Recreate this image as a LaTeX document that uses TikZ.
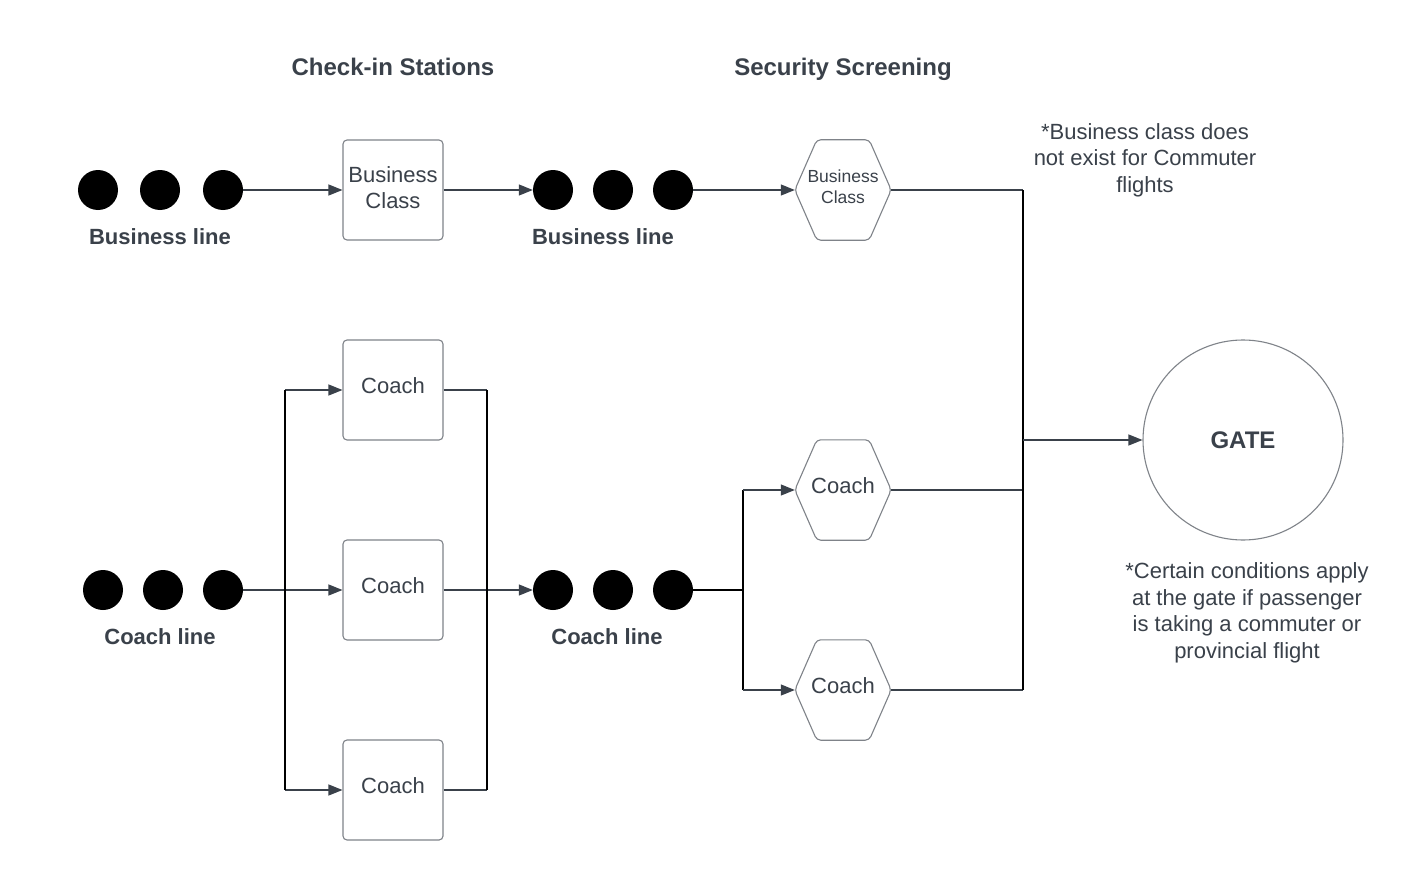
\documentclass[tikz,border=0pt]{standalone}
\usepackage{fontspec}
\setmainfont{Liberation Sans}
\usetikzlibrary{arrows.meta}
\definecolor{ink}{HTML}{3A414A}
\definecolor{edge}{HTML}{7F8389}
\tikzset{
  dot/.style={circle,fill=black,draw=none,minimum size=40pt,inner sep=0pt},
  stationbox/.style={draw=edge,line width=1.1pt,rounded corners=4pt,minimum width=100pt,minimum height=100pt,inner sep=0pt,align=center,text=ink,font=\fontsize{22}{26}\selectfont},
  hexnode/.style={draw=none,minimum width=96pt,minimum height=100pt,inner sep=0pt,align=center,text=ink},
  hexline/.style={draw=edge,line width=1.1pt,rounded corners=4pt},
  title/.style={text=ink,font=\bfseries\fontsize{24}{28}\selectfont,text height=17pt,text depth=0pt},
  linelabel/.style={text=ink,font=\bfseries\fontsize{22}{26}\selectfont},
  note/.style={text=ink,align=center,font=\fontsize{22}{26.5}\selectfont},
  conn/.style={draw=ink,line width=1.2pt},
  arr/.style={conn,-{Triangle[length=14pt,width=11pt]}},
  bar/.style={draw=black,line width=2.5pt},
}
\newcommand{\hexdraw}[1]{\draw[hexline] (#1.west) -- ([xshift=22pt]#1.north west) -- ([xshift=-22pt]#1.north east) -- (#1.east) -- ([xshift=-22pt]#1.south east) -- ([xshift=22pt]#1.south west) -- cycle;}
\begin{document}
\begin{tikzpicture}[x=1pt,y=-1pt]
\useasboundingbox (0,0) rectangle (1411,880);
\fill[white] (0,0) rectangle (1411,880);

% titles
\node[title] (t1) at (393,67) {Check-in Stations};
\node[title] (t2) at (843,67) {Security Screening};

% business row
\node[dot] (b1) at (98,190) {};
\node[dot] (b2) at (160,190) {};
\node[dot] (b3) at (223,190) {};
\node[linelabel] (bl1) at (160,237) {Business line};
\node[stationbox,text depth=4pt] (bc) at (393,190) {Business\\Class};
\node[dot] (b4) at (553,190) {};
\node[dot] (b5) at (613,190) {};
\node[dot] (b6) at (673,190) {};
\node[linelabel] (bl2) at (603,237) {Business line};
\node[hexnode,font=\fontsize{17.5}{21}\selectfont,text depth=7pt] (hb) at (843,190) {Business\\Class};
\hexdraw{hb}
\node[note] (n1) at (1145,160) {*Business class does\\not exist for Commuter\\flights};

\draw[arr] (b3.east) -- (bc.west);
\draw[arr] (bc.east) -- (b4.west);
\draw[arr] (b6.east) -- (hb.west);

% coach row
\node[dot] (c1) at (103,590) {};
\node[dot] (c2) at (163,590) {};
\node[dot] (c3) at (223,590) {};
\node[linelabel] (cl1) at (160,637) {Coach line};
\node[stationbox,text depth=8pt] (cc1) at (393,390) {Coach};
\node[stationbox,text depth=8pt] (cc2) at (393,590) {Coach};
\node[stationbox,text depth=8pt] (cc3) at (393,790) {Coach};
\node[dot] (c4) at (553,590) {};
\node[dot] (c5) at (613,590) {};
\node[dot] (c6) at (673,590) {};
\node[linelabel] (cl2) at (607,637) {Coach line};
\node[hexnode,font=\fontsize{22}{26}\selectfont,text depth=8pt] (hc1) at (843,490) {Coach};
\hexdraw{hc1}
\node[hexnode,font=\fontsize{22}{26}\selectfont,text depth=8pt] (hc2) at (843,690) {Coach};
\hexdraw{hc2}

\coordinate (lbt) at (285,390);
\coordinate (lbb) at (285,790);
\coordinate (rbt) at (487,390);
\coordinate (rbb) at (487,790);
\coordinate (sj) at (743,590);
\coordinate (sbt) at (743,490);
\coordinate (sbb) at (743,690);
\coordinate (gt) at (1023,190);
\coordinate (gm1) at (1023,440);
\coordinate (gm2) at (1023,490);
\coordinate (gb) at (1023,690);

\node[draw=edge,line width=1.1pt,circle,minimum size=200pt,inner sep=0pt,text=ink,font=\bfseries\fontsize{24}{28}\selectfont] (gate) at (1243,440) {GATE};
\node[note] (n2) at (1247,613) {*Certain conditions apply\\at the gate if passenger\\is taking a commuter or\\provincial flight};

% check-in connectors
\draw[arr] (c3.east) -- (cc2.west);
\draw[arr] (lbt) -- (cc1.west);
\draw[arr] (lbb) -- (cc3.west);
\draw[conn] (cc1.east) -- (rbt);
\draw[conn] (cc3.east) -- (rbb);
\draw[arr] (cc2.east) -- (c4.west);
\draw[bar] (lbt) -- (lbb);
\draw[bar] (rbt) -- (rbb);

% security connectors
\draw[bar] (c6.east) -- (sj);
\draw[bar] (sbt) -- (sbb);
\draw[arr] (sbt) -- (hc1.west);
\draw[arr] (sbb) -- (hc2.west);

\draw[conn] (hb.east) -- (gt);
\draw[conn] (hc1.east) -- (gm2);
\draw[conn] (hc2.east) -- (gb);
\draw[bar] (gt) -- (gb);
\draw[arr] (gm1) -- (gate.west);
\end{tikzpicture}
\end{document}
